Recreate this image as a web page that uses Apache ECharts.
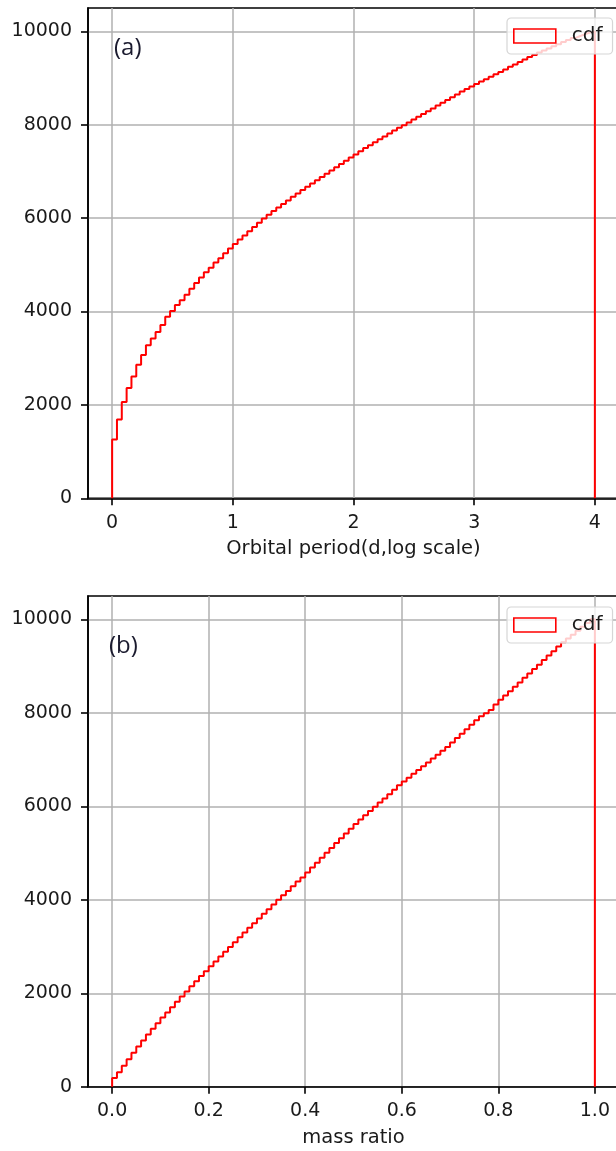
<!DOCTYPE html>
<html><head><meta charset="utf-8">
<script src="https://cdn.jsdelivr.net/npm/echarts@6/dist/echarts.min.js"></script>
<style>html,body{margin:0;padding:0;background:#fff}#c{width:616px;height:1151px}</style>
</head><body><div id="c"></div>
<script>
// ---- data ----
const periodBinStart = 0, periodBinWidth = 0.04;
const periodCdf = [1260,1690,2060,2360,2610,2860,3070,3280,3420,3560,
  3710,3890,4010,4140,4240,4360,4490,4610,4730,4840,
  4940,5050,5140,5250,5350,5445,5540,5630,5720,5810,
  5900,5990,6070,6150,6230,6300,6380,6460,6530,6600,
  6670,6740,6810,6880,6950,7020,7090,7160,7230,7300,
  7365,7430,7500,7560,7625,7690,7750,7815,7875,7935,
  7990,8050,8110,8170,8230,8290,8350,8410,8470,8530,
  8590,8650,8710,8765,8820,8875,8925,8975,9030,9080,
  9130,9185,9240,9290,9345,9395,9450,9495,9545,9590,
  9635,9680,9725,9770,9815,9860,9900,9940,9975,10000];
const massBinStart = 0, massBinWidth = 0.01;
const massCdf = [190,310,450,590,730,860,990,1120,1240,1360,
  1480,1590,1700,1820,1930,2040,2150,2260,2370,2470,
  2580,2680,2790,2890,2990,3090,3200,3300,3400,3500,
  3600,3700,3800,3900,4000,4100,4190,4290,4390,4480,
  4585,4690,4795,4900,5005,5110,5215,5320,5420,5520,
  5620,5720,5810,5900,5990,6080,6170,6260,6355,6450,
  6530,6610,6695,6775,6860,6940,7025,7105,7190,7270,
  7365,7460,7555,7650,7745,7840,7930,7990,8060,8180,
  8280,8370,8460,8560,8650,8750,8840,8940,9030,9130,
  9225,9320,9420,9510,9590,9670,9755,9840,9920,10000];
const periodTicks = [0,1,2,3,4];
const massTicks = [0,0.2,0.4,0.6,0.8,1.0];
const countTicks = [0,2000,4000,6000,8000,10000];
const seriesName = 'cdf';
const xNameA = 'Orbital period(d,log scale)';
const xNameB = 'mass ratio';
const panelLabels = ['(a)','(b)'];

// ---- build step outline from bins ----
function stepOutline(start, width, counts){
  const pts = [[start, 0]];
  counts.forEach((c, i) => {
    const x0 = +(start + i*width).toFixed(6), x1 = +(start + (i+1)*width).toFixed(6);
    pts.push([x0, c], [x1, c]);
  });
  pts.push([+(start + counts.length*width).toFixed(6), 0]);
  return pts;
}

const FONT = 'DejaVu Sans';
const TXT = '#1a1a1a';
function xAxisCfg(gi, min, max, ticks, name, fmt){
  return {
    type:'value', gridIndex:gi, min:min, max:max,
    name:name, nameLocation:'middle', nameGap:41,
    nameTextStyle:{fontFamily:FONT, fontSize:19.5, color:TXT},
    axisLine:{show:true, onZero:false, lineStyle:{color:'#000', width:1.6}},
    axisTick:{show:true, length:7, lineStyle:{color:'#000', width:1.6}, customValues:ticks},
    axisLabel:{fontFamily:FONT, fontSize:19, color:TXT, margin:15, customValues:ticks, formatter:fmt},
    splitLine:{show:true, lineStyle:{color:'#b0b0b0', width:1.5}}
  };
}
function yAxisCfg(gi){
  return {
    type:'value', gridIndex:gi, min:0, max:10500,
    axisLine:{show:true, onZero:false, lineStyle:{color:'#000', width:1.6}},
    axisTick:{show:true, length:7, lineStyle:{color:'#000', width:1.6}, customValues:countTicks},
    axisLabel:{fontFamily:FONT, fontSize:19, color:TXT, margin:16, customValues:countTicks, formatter:v => String(Math.round(v))},
    splitLine:{show:true, lineStyle:{color:'#b0b0b0', width:1.5}}
  };
}
function legendCfg(top){
  return {
    left:507, top:top, orient:'horizontal',
    data:[seriesName], icon:'rect', itemWidth:42, itemHeight:14,
    itemStyle:{color:'rgba(255,255,255,0)', borderColor:'#ff0000', borderWidth:1.6},
    textStyle:{fontFamily:FONT, fontSize:20, color:TXT, padding:[0,0,0,11], lineHeight:20},
    backgroundColor:'rgba(255,255,255,0.8)', borderColor:'#d6d6d6', borderWidth:1.2, borderRadius:4,
    padding:[8,10,8,6], selectedMode:false
  };
}
function seriesCfg(gi, pts){
  return {
    name:seriesName, type:'line', xAxisIndex:gi, yAxisIndex:gi, data:pts,
    showSymbol:false, symbol:'none', clip:true,
    lineStyle:{color:'#ff0000', width:2}, itemStyle:{color:'#ff0000'}, z:3
  };
}

const chart = echarts.init(document.getElementById('c'), null, {renderer:'canvas'});
chart.setOption({
  animation:false,
  backgroundColor:'#ffffff',
  grid:[
    {left:88, top:8, width:531, height:490.3, show:true, borderColor:'#000', borderWidth:1.6, backgroundColor:'transparent', outerBoundsMode:'none', containLabel:false},
    {left:88, top:596, width:531, height:490.8, show:true, borderColor:'#000', borderWidth:1.6, backgroundColor:'transparent', outerBoundsMode:'none', containLabel:false}
  ],
  xAxis:[
    xAxisCfg(0, -0.2, 4.2, periodTicks, xNameA, v => String(Math.round(v))),
    xAxisCfg(1, -0.05, 1.05, massTicks, xNameB, v => Number(v).toFixed(1))
  ],
  yAxis:[yAxisCfg(0), yAxisCfg(1)],
  legend:[legendCfg(18), legendCfg(607)],
  series:[
    seriesCfg(0, stepOutline(periodBinStart, periodBinWidth, periodCdf)),
    seriesCfg(1, stepOutline(massBinStart, massBinWidth, massCdf))
  ],
  graphic:[
    {type:'text', left:114, top:36, z:10, style:{text:panelLabels[0], fontFamily:'Open Sans', fontSize:24, fill:'#1a1a2e'}},
    {type:'text', left:109, top:634, z:10, style:{text:panelLabels[1], fontFamily:'Open Sans', fontSize:24, fill:'#1a1a2e'}}
  ]
});
</script>
</body></html>
